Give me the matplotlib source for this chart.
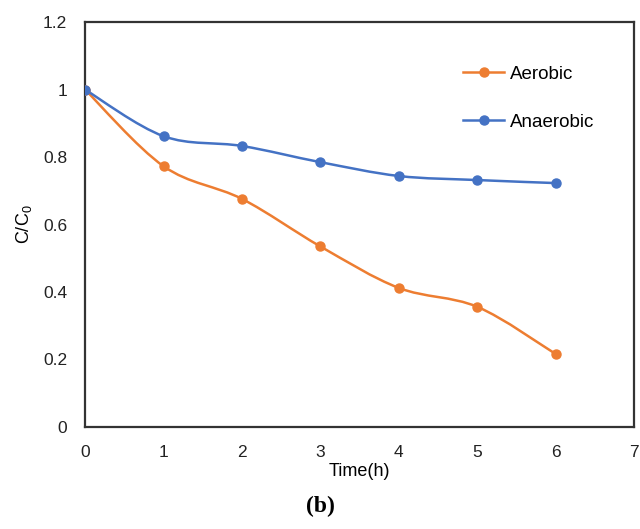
import numpy as np
import matplotlib.pyplot as plt
from matplotlib.path import Path
from matplotlib.patches import PathPatch
from matplotlib.lines import Line2D

plt.rcParams['font.family'] = ['Liberation Sans', 'DejaVu Sans']
plt.rcParams['mathtext.fontset'] = 'custom'
plt.rcParams['mathtext.rm'] = 'Liberation Sans'

# Data
time_h = [0, 1, 2, 3, 4, 5, 6]
aerobic = [1.0, 0.773, 0.676, 0.535, 0.412, 0.356, 0.216]
anaerobic = [1.0, 0.862, 0.833, 0.785, 0.744, 0.732, 0.723]
y_ticks = [0, 0.2, 0.4, 0.6, 0.8, 1.0, 1.2]
y_tick_labels = ['0', '0.2', '0.4', '0.6', '0.8', '1', '1.2']
x_ticks = [0, 1, 2, 3, 4, 5, 6, 7]

orange = '#ED7D31'
blue = '#4472C4'


def smooth_path(xs, ys, tension=1 / 6):
    # Excel-style smoothed line: cubic Bezier segments through the points
    pts = np.column_stack([xs, ys]).astype(float)
    verts = [pts[0]]
    codes = [Path.MOVETO]
    n = len(pts)
    for i in range(n - 1):
        p0 = pts[i - 1] if i > 0 else pts[i]
        p1 = pts[i]
        p2 = pts[i + 1]
        p3 = pts[i + 2] if i + 2 < n else pts[i + 1]
        c1 = p1 + (p2 - p0) * tension
        c2 = p2 - (p3 - p1) * tension
        verts += [c1, c2, p2]
        codes += [Path.CURVE4] * 3
    return Path(verts, codes)


fig = plt.figure(figsize=(6.4, 5.29), dpi=100)
ax = fig.add_axes([0.133, 0.193, 0.858, 0.765])

for ys, col in [(aerobic, orange), (anaerobic, blue)]:
    ax.add_patch(PathPatch(smooth_path(time_h, ys), facecolor='none',
                           edgecolor=col, lw=1.8, zorder=2))
    ax.plot(time_h, ys, ls='none', marker='o', ms=6.5, color=col, zorder=3)

ax.set_xlim(0, 7)
ax.set_ylim(0, 1.2)
ax.set_xticks(x_ticks)
ax.set_yticks(y_ticks)
ax.set_yticklabels(y_tick_labels)
ax.tick_params(axis='y', length=0, labelsize=12.5, pad=13, colors='#222222')
ax.tick_params(axis='x', length=0, labelsize=12.5, pad=13, colors='#222222')
for s in ax.spines.values():
    s.set_linewidth(1.6)
    s.set_color('#333333')

ax.set_xlabel('Time(h)', fontsize=13, labelpad=2)
ax.set_ylabel(r'C/C$_\mathrm{0}$', fontsize=13, labelpad=6)

handles = [Line2D([], [], color=orange, marker='o', ms=6.5, lw=1.8),
           Line2D([], [], color=blue, marker='o', ms=6.5, lw=1.8)]
ax.legend(handles, ['Aerobic', 'Anaerobic'], loc='upper right',
          bbox_to_anchor=(0.958, 0.935), frameon=False, fontsize=13.5,
          labelspacing=1.65, handlelength=2.2, handletextpad=0.3)

fig.text(0.5, 0.042, '(b)', ha='center', va='center', fontsize=17,
         fontweight='bold', family=['Liberation Serif', 'DejaVu Serif'])

plt.savefig('out.png', dpi=100)
